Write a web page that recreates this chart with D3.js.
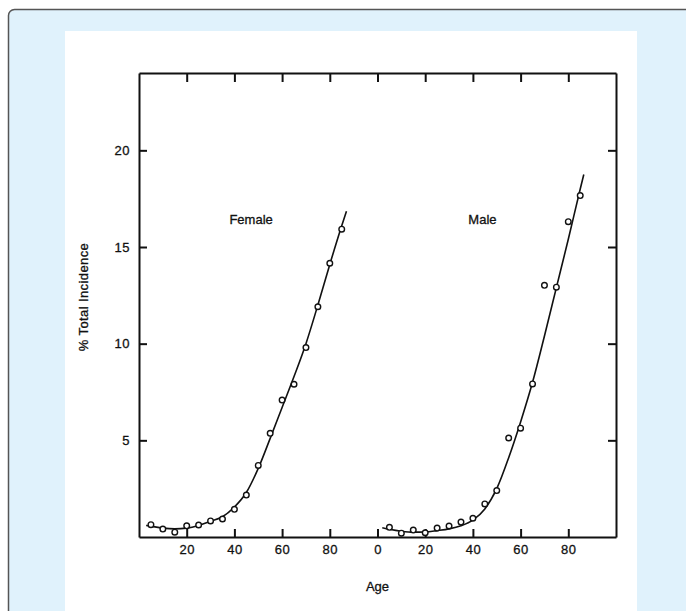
<!DOCTYPE html>
<html>
<head>
	<title>% Total Incidence by Age</title>
	<script src="https://d3js.org/d3.v7.min.js"></script>
	<style>
		body { margin: 0; background: #ffffff; }
		text { font-family: "Liberation Sans", Arial, sans-serif; font-size: 13px; fill: #111; }
	</style>
</head>
<body>
	<div id="chart"></div>
	<script>
		// observed points, ages 5..85 in 5 year steps
		var ages = [5, 10, 15, 20, 25, 30, 35, 40, 45, 50, 55, 60, 65, 70, 75, 80, 85];
		var femalePts = [0.64, 0.41, 0.25, 0.58, 0.62, 0.83, 0.93, 1.43, 2.17, 3.70, 5.36, 7.08, 7.90, 9.80, 11.91, 14.16, 15.92];
		var malePts = [0.50, 0.20, 0.36, 0.22, 0.46, 0.57, 0.77, 0.97, 1.71, 2.40, 5.12, 5.63, 7.92, 13.02, 12.92, 16.31, 17.66];

		// fitted curves
		var femaleFitAges = [3, 5, 10, 15, 20, 25, 30, 35, 40, 45, 50, 55, 60, 65, 70, 75, 80, 85, 87];
		var femaleFit = [0.60, 0.56, 0.46, 0.42, 0.46, 0.60, 0.82, 1.05, 1.55, 2.30, 3.55, 5.10, 6.70, 8.30, 10.0, 12.0, 14.1, 16.1, 16.85];
		var maleFitAges = [2, 5, 10, 15, 20, 25, 30, 35, 40, 45, 50, 55, 60, 65, 70, 75, 80, 85, 86.5];
		var maleFit = [0.48, 0.40, 0.30, 0.25, 0.26, 0.33, 0.42, 0.58, 0.87, 1.45, 2.50, 4.10, 5.95, 8.00, 10.4, 12.9, 15.4, 18.0, 18.75];

		var xTicks = [20, 40, 60, 80, 100, 120, 140, 160, 180];
		var yTicks = [5, 10, 15, 20];
		var panels = ["Female", "Male"];

		var W = 686, H = 611;
		var margin = { top: 73, right: 70, bottom: 74, left: 139 };

		var svg = d3.select("#chart").append("svg")
			.attr("width", W)
			.attr("height", H);

		// page background: light blue box with white sheet
		svg.append("rect")
			.attr("x", 0).attr("y", 0).attr("width", W).attr("height", H)
			.attr("fill", "#ffffff");
		svg.append("rect")
			.attr("x", 8.5).attr("y", 9.5).attr("width", 720).attr("height", 640)
			.attr("rx", 6)
			.attr("fill", "#e0f2fc")
			.attr("stroke", "#555")
			.attr("stroke-width", 1.5);
		svg.append("rect")
			.attr("x", 65).attr("y", 31).attr("width", 572).attr("height", 600)
			.attr("fill", "#ffffff");

		var x = d3.scaleLinear()
			.domain([0, 200])
			.range([margin.left, W - margin.right]);

		var y = d3.scaleLinear()
			.domain([0, 24])
			.range([H - margin.bottom, margin.top]);

		// each panel is offset by 100 years on the shared x scale
		function px(age, i) { return x(age + i * 100); }

		var g = svg.append("g");

		// axes with inward ticks
		g.append("g")
			.attr("transform", "translate(0," + y(0) + ")")
			.call(d3.axisBottom(x).tickValues(xTicks).tickSizeInner(-8).tickSizeOuter(0).tickPadding(8)
				.tickFormat(function (d) { return d % 100; }));
		g.append("g")
			.attr("transform", "translate(0," + y(24) + ")")
			.call(d3.axisTop(x).tickValues(xTicks).tickSizeInner(-9).tickSizeOuter(0).tickFormat(""));
		g.append("g")
			.attr("transform", "translate(" + x(0) + ",0)")
			.call(d3.axisLeft(y).tickValues(yTicks).tickSizeInner(-8).tickSizeOuter(0).tickPadding(9));
		g.append("g")
			.attr("transform", "translate(" + x(200) + ",0)")
			.call(d3.axisRight(y).tickValues(yTicks).tickSizeInner(-8).tickSizeOuter(0).tickFormat(""));

		g.selectAll(".domain").attr("stroke", "#111").attr("stroke-width", 2);
		g.selectAll(".tick line").attr("stroke", "#111").attr("stroke-width", 2);
		g.selectAll(".tick text")
			.style("font-size", "13px")
			.style("font-family", "'Liberation Sans', Arial, sans-serif")
			.style("letter-spacing", "0.5px")
			.attr("fill", "#111")
			.attr("stroke", "#111")
			.attr("stroke-width", 0.3);

		// curves and points
		var line = d3.line()
			.x(function (d) { return px(d.a, d.i); })
			.y(function (d) { return y(d.v); })
			.curve(d3.curveMonotoneX);

		var fits = [
			femaleFitAges.map(function (a, k) { return { a: a, v: femaleFit[k], i: 0 }; }),
			maleFitAges.map(function (a, k) { return { a: a, v: maleFit[k], i: 1 }; })
		];
		g.selectAll(".fit")
			.data(fits)
			.enter().append("path")
			.attr("class", "fit")
			.attr("d", line)
			.attr("fill", "none")
			.attr("stroke", "#111")
			.attr("stroke-width", 1.6);

		var pts = [];
		ages.forEach(function (a, k) {
			pts.push({ a: a, v: femalePts[k], i: 0 });
			pts.push({ a: a, v: malePts[k], i: 1 });
		});
		g.selectAll(".pt")
			.data(pts)
			.enter().append("circle")
			.attr("class", "pt")
			.attr("cx", function (d) { return px(d.a, d.i); })
			.attr("cy", function (d) { return y(d.v); })
			.attr("r", 2.8)
			.attr("fill", "#fff")
			.attr("stroke", "#111")
			.attr("stroke-width", 1.4);

		// panel labels
		g.selectAll(".panel")
			.data(panels)
			.enter().append("text")
			.attr("class", "panel")
			.attr("x", function (d, i) { return px(i ? 44 : 47, i); })
			.attr("y", y(16.2))
			.attr("text-anchor", "middle")
			.attr("stroke", "#111")
			.attr("stroke-width", 0.3)
			.text(function (d) { return d; });

		// axis titles
		svg.append("text")
			.attr("x", x(100))
			.attr("y", 591)
			.attr("text-anchor", "middle")
			.attr("stroke", "#111")
			.attr("stroke-width", 0.3)
			.text("Age");

		svg.append("text")
			.attr("transform", "translate(88," + 297 + ") rotate(-90)")
			.attr("text-anchor", "middle")
			.style("letter-spacing", "0.4px")
			.attr("stroke", "#111")
			.attr("stroke-width", 0.3)
			.text("% Total Incidence");
	</script>
</body>
</html>
